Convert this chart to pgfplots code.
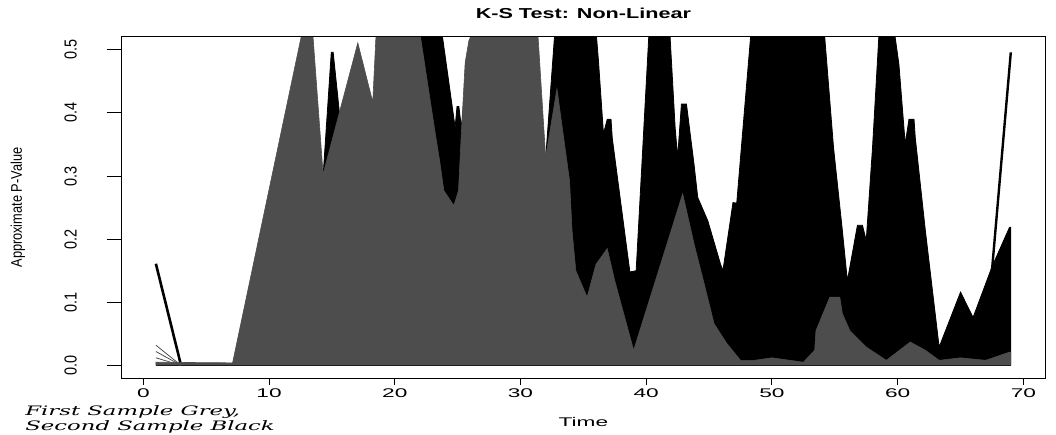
\documentclass[border=0pt]{standalone}
\usepackage{fontspec}
\setmainfont{Liberation Sans}
\newfontfamily\axfont[FakeStretch=1.8]{Liberation Sans}
\newfontfamily\rotfont[FakeStretch=0.83]{Liberation Sans}
\newfontfamily\titfont[FakeStretch=1.5]{Liberation Sans}
\newfontfamily\notefont[FakeStretch=1.75]{DejaVu Serif}
\usepackage{pgfplots}
\pgfplotsset{compat=1.18}
\definecolor{grey30}{RGB}{77,77,77}

\begin{document}
\begin{tikzpicture}
\begin{axis}[name=ax, scale only axis, width=461.65pt, height=170.9pt,
  xmin=-1.72, xmax=71.72, ymin=-0.0208, ymax=0.5208,
  axis line style={black, line width=0.5pt},
  tick align=outside, xtick pos=bottom, ytick pos=left,
  major tick length=7.5pt,
  xtick={0,10,...,70}, xticklabels={0,10,20,30,40,50,60,70},
  ytick={0,0.1,0.2,0.3,0.4,0.5}, yticklabels={0.0,0.1,0.2,0.3,0.4,0.5},
  xtick style={black, line width=0.5pt, /pgfplots/major tick length=3pt},
  ytick style={black, line width=0.5pt},
  xticklabel style={font=\axfont\fontsize{6.3}{7}\selectfont, anchor=center, inner sep=0pt},
  yticklabel style={font=\rotfont\fontsize{8.7}{9}\selectfont, xshift=-1.7pt, rotate=90, anchor=center, inner sep=0pt},
  xticklabel shift=-0.25pt, yticklabel shift=16.35pt,
  xlabel={Time}, xlabel style={font=\axfont\fontsize{6.3}{7}\selectfont, at={(axis description cs:0.5,-0.1287)}, anchor=center, inner sep=0pt},
  ylabel={Approximate P-Value}, ylabel style={font=\rotfont\fontsize{7.7}{8}\selectfont, at={(axis description cs:-0.1123,0.5)}, anchor=center, inner sep=0pt},
  clip=true]

% second sample (black) envelope
\addplot[fill=black, draw=black, line width=0.4pt] coordinates {
(14.0,0) (14.0,0.22) (14.3,0.30) (14.95,0.496) (15.1,0.496) (15.6,0.40) (16.0,0.25) (21.5,0.25)
(22.0,0.56) (23.5,0.56) (23.8,0.52) (24.8,0.377) (24.95,0.41) (25.1,0.41) (25.3,0.377) (26.0,0.52)
(26.3,0.3) (31.4,0.3) (32.0,0.327) (32.7,0.52) (33,0.6) (35.8,0.6) (36.05,0.52) (36.2,0.483)
(36.6,0.367) (36.9,0.39) (37.2,0.39) (37.3,0.36) (38.7,0.148) (39.2,0.15) (40.2,0.52) (40.5,0.6)
(41.6,0.6) (41.9,0.52) (42.3,0.377) (42.5,0.33) (42.8,0.414) (43.2,0.414) (43.8,0.319) (44.1,0.266)
(44.9,0.229) (45.9,0.161) (46.1,0.15) (46.9,0.258) (47.2,0.257) (48.3,0.52) (48.6,0.6) (53.9,0.6)
(54.2,0.52) (54.9,0.345) (55.6,0.214) (56.0,0.134) (56.8,0.222) (57.2,0.222) (57.5,0.198) (58.0,0.345)
(58.5,0.52) (58.8,0.6) (59.5,0.6) (59.8,0.52) (60.1,0.477) (60.6,0.351) (60.9,0.39) (61.3,0.39)
(61.4,0.361) (62.2,0.214) (63.3,0.029) (65.0,0.116) (66.0,0.076) (67.5,0.156) (68.9,0.219) (69,0.219) (69,0)};
\addplot[black, line width=1.3pt] coordinates {(1,0.161) (3,0.0)};
\addplot[black, line width=1.2pt] coordinates {(67.5,0.15) (69,0.496)};
\addplot[black, line width=1pt] coordinates {(1,0.0) (69,0.0)};

% first sample (grey) envelope
\addplot[fill=grey30, draw=grey30, line width=0.3pt] coordinates {
(1,0) (1,0.005) (7.1,0.004) (12.55,0.52) (13.5,0.52) (14.3,0.303) (17.06,0.511) (18.25,0.417)
(18.5,0.52) (22.05,0.52) (23.2,0.37) (23.6,0.32) (23.9,0.277) (24.7,0.253) (25.07,0.277) (25.3,0.37)
(25.6,0.48) (25.9,0.515) (26.1,0.52) (31.4,0.52) (32.0,0.33) (32.9,0.438) (33.3,0.38) (33.9,0.293)
(34.1,0.214) (34.4,0.15) (35.3,0.108) (36.0,0.16) (36.9,0.185) (37.5,0.134) (39.0,0.024) (42.9,0.272)
(43.8,0.193) (44.6,0.13) (45.4,0.066) (46.4,0.035) (47.5,0.008) (48.6,0.008) (50,0.012) (52.5,0.005)
(53.4,0.024) (53.5,0.055) (54.6,0.108) (55.4,0.108) (55.6,0.082) (56.2,0.055) (57.5,0.029) (59.1,0.008)
(61.0,0.037) (62.2,0.024) (63.3,0.008) (65,0.012) (67,0.008) (68.9,0.021) (69,0.021) (69,0)};
\addplot[grey30, line width=0.4pt] coordinates {(1,0.032) (3,0.0)};
\addplot[grey30, line width=0.4pt] coordinates {(1,0.022) (3,0.0)};
\addplot[grey30, line width=0.4pt] coordinates {(1,0.012) (3,0.0)};
\end{axis}
\node[font=\titfont\bfseries\fontsize{7.2}{8}\selectfont, anchor=center, inner sep=0pt] at ([yshift=11.7pt]ax.north) {K-S Test: Non-Linear};
\node[font=\notefont\itshape\fontsize{6.5}{7}\selectfont, anchor=west, inner sep=0pt] at ([xshift=-48.35pt,yshift=-16.75pt]ax.south west) {First Sample Grey,};
\node[font=\notefont\itshape\fontsize{6.5}{7}\selectfont, anchor=west, inner sep=0pt] at ([xshift=-48.35pt,yshift=-24.25pt]ax.south west) {Second Sample Black};
\pgfresetboundingbox
\path ([xshift=-60.85pt,yshift=-27.75pt]ax.south west) rectangle ([xshift=5.5pt,yshift=18.35pt]ax.north east);
\end{tikzpicture}
\end{document}
